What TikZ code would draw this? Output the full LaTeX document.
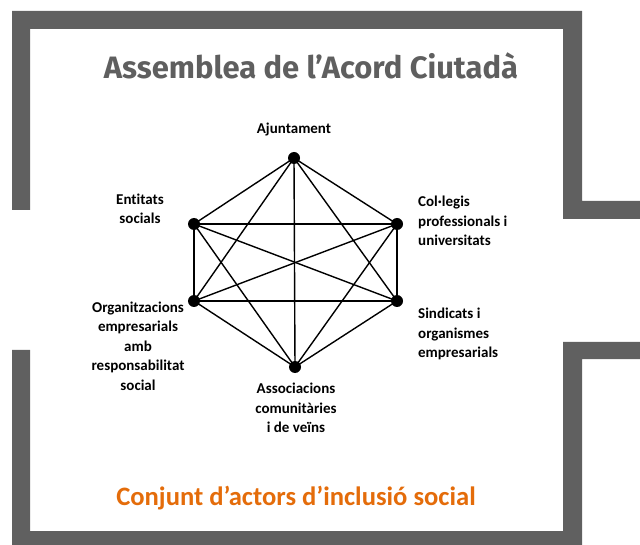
\documentclass[tikz,border=0pt]{standalone}
\usepackage{fontspec}
\newfontfamily\labfont[Ligatures=NoCommon]{Carlito}
\newfontfamily\titfont{Fira Sans}
\definecolor{framegray}{HTML}{606060}
\definecolor{titlegray}{HTML}{5F5F5F}
\definecolor{orangetxt}{HTML}{E46C0A}
\tikzset{
  dot/.style={circle,fill=black,inner sep=0pt,minimum size=12pt},
  lab/.style={inner sep=0pt,font=\labfont\bfseries\fontsize{15}{19.5}\selectfont},
  edge/.style={line width=1.4pt,black},
}
\begin{document}
\begin{tikzpicture}[x=1pt,y=-1pt]
\useasboundingbox (0,0) rectangle (640,545);
% frame
\fill[framegray] (12,11) -- (582,11) -- (582,201) -- (640,201) -- (640,219) -- (563,219) -- (563,29) -- (30,29) -- (30,210) -- (12,210) -- cycle;
\fill[framegray] (12,350) -- (30,350) -- (30,531) -- (563,531) -- (563,342) -- (640,342) -- (640,359) -- (582,359) -- (582,545) -- (12,545) -- cycle;
% title
\node[anchor=base,inner sep=0pt,text=titlegray] (title) at (311,79)
  {\resizebox{414pt}{!}{\titfont\bfseries Assemblea de l’Acord Ciutadà}};
\node[anchor=base,inner sep=0pt,text=orangetxt,font=\labfont\bfseries\fontsize{26.6}{30}\selectfont] (subtitle) at (296,505)
  {Conjunt d’actors d’inclusió social};
% dots
\node[dot] (A) at (294,158) {};
\node[dot] (E) at (194,224) {};
\node[dot] (C) at (397,224) {};
\node[dot] (O) at (194,301) {};
\node[dot] (S) at (397,301) {};
\node[dot] (V) at (295,367) {};
% edges
\foreach \a/\b in {A/E,A/C,A/O,A/S,A/V,E/C,E/O,E/S,E/V,C/O,C/S,C/V,O/S,O/V,S/V}
  \draw[edge] (\a.center) -- (\b.center);
% labels
\node[lab] (lA) at (294,130) {Ajuntament};
\node[lab,align=center] (lE) at (140,209) {Entitats\\socials};
\node[lab,align=left,anchor=west] (lC) at (418,221) {Col·legis\\professionals i\\universitats};
\node[lab,align=center] (lO) at (138,346) {Organitzacions\\empresarials\\amb\\responsabilitat\\social};
\node[lab,align=left,anchor=west] (lS) at (418,334) {Sindicats i\\organismes\\empresarials};
\node[lab,align=center] (lV) at (296,408) {Associacions\\comunitàries\\i de veïns};
\end{tikzpicture}
\end{document}
